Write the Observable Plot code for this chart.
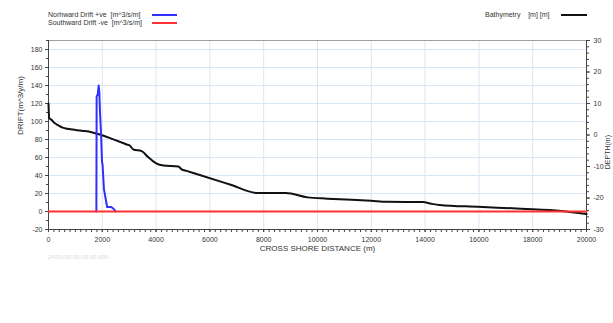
<!DOCTYPE html>
<html>
<head>
<meta charset="utf-8">
<script src="https://cdn.jsdelivr.net/npm/d3@7"></script>
<script src="https://cdn.jsdelivr.net/npm/@observablehq/plot@0.6"></script>
<style>
  html, body { margin: 0; padding: 0; background: #fff; }
  body { width: 613px; height: 323px; overflow: hidden; font-family: "Liberation Sans", Arial, sans-serif; color: #333; }
  #legend { position: relative; width: 613px; height: 32px; font-size: 7px; }
  #legend .t { position: absolute; white-space: pre; line-height: 8px; }
  #legend .sw { position: absolute; height: 2px; }
  #stamp { position: absolute; left: 48px; top: 254px; font-size: 6px; line-height: 7px; color: #dcdcdc; white-space: pre; }
</style>
</head>
<body>
<div id="legend">
  <div class="t" style="left:48px; top:11px;">Norhward Drift +ve  [m^3/s/m]</div>
  <div class="sw" style="left:152px; top:14px; width:25px; background:#2f2fff;"></div>
  <div class="t" style="left:48px; top:19px;">Southward Drift -ve  [m^3/s/m]</div>
  <div class="sw" style="left:152px; top:22px; width:25px; background:#ff3030;"></div>
  <div class="t" style="left:485px; top:11px;">Bathymetry    [m] [m]</div>
  <div class="sw" style="left:561px; top:14px; width:26px; background:#111;"></div>
</div>
<div id="chart"></div>
<div id="stamp">24/01/93 00:00:00.000</div>
<script>
// Cross-shore distance (m) and bed level (m) of the profile
const bathyX = [0, 25, 100, 200, 300, 400, 500, 700, 1000, 1300, 1600, 2000, 2412, 2907, 3030, 3155, 3464, 3711, 4000, 4268, 4825, 4949, 5134, 5652, 6742, 7764, 8820, 9627, 10373, 11988, 12609, 13913, 14224, 14534, 15963, 17578, 19068, 20000];
const bathyDepth = [10, 5.4, 4.9, 4.0, 3.4, 2.9, 2.4, 2.0, 1.6, 1.3, 0.9, -0.1, -1.4, -3.0, -3.4, -4.6, -5.1, -7.1, -9.0, -9.7, -10.0, -10.9, -11.4, -12.8, -15.7, -18.4, -18.4, -19.8, -20.2, -20.9, -21.2, -21.3, -21.8, -22.2, -22.8, -23.4, -24.1, -25.1];

// Northward drift distribution (m^3/y/m)
const northX = [1780, 1790, 1830, 1865, 1890, 1915, 1955, 1990, 2010, 2060, 2120, 2180, 2330, 2420, 2500];
const northDrift = [0, 128, 130, 140, 132, 110, 85, 55, 52, 25, 15, 5, 5, 3, 0];

// Southward drift distribution (m^3/y/m)
const southX = [0, 20000];
const southDrift = [0, 0];

// Axis tick values
const xTicks = d3.range(0, 20001, 2000);
const xMinor = d3.range(0, 20001, 200);
const driftTicks = d3.range(-20, 181, 20);
const driftMinor = d3.range(-20, 191, 10);
const depthTicks = [-30, -20, -10, 0, 10, 20, 30];
const depthMinor = d3.range(-30, 31, 2);

const driftDomain = [-20, 190];
const depthDomain = [-30, 30];
// depth (right axis) expressed in drift units (left axis)
const toDrift = d => driftDomain[0] + (d - depthDomain[0]) * (driftDomain[1] - driftDomain[0]) / (depthDomain[1] - depthDomain[0]);
const toDepth = v => Math.round(depthDomain[0] + (v - driftDomain[0]) * (depthDomain[1] - depthDomain[0]) / (driftDomain[1] - driftDomain[0]));

const bathy = bathyX.map((x, i) => ({x, y: toDrift(bathyDepth[i])}));
const north = northX.map((x, i) => ({x, y: northDrift[i]}));
const south = southX.map((x, i) => ({x, y: southDrift[i]}));

const grid = "#d9e6f7";
const axisColor = "#444";

const chart = Plot.plot({
  width: 613,
  height: 291,
  marginLeft: 48,
  marginRight: 27,
  marginTop: 8,
  marginBottom: 94,
  style: {fontFamily: "'Liberation Sans', Arial, sans-serif", fontSize: "7px", color: "#333", background: "#fff", overflow: "visible"},
  x: {domain: [0, 20000]},
  y: {domain: driftDomain},
  marks: [
    Plot.gridX(d3.range(2000, 20000, 2000), {stroke: grid, strokeOpacity: 1}),
    Plot.gridY(d3.range(0, 181, 20), {stroke: grid, strokeOpacity: 1}),
    Plot.frame({stroke: "#a0a0a0"}),
    Plot.ruleX([0, 20000], {stroke: axisColor}),
    Plot.ruleY([-20], {stroke: axisColor}),

    Plot.axisX(xMinor, {tickSize: 3, tickFormat: () => "", stroke: axisColor, label: null}),
    Plot.axisX(xTicks, {tickSize: 3, tickPadding: 5, tickFormat: d => String(d), stroke: axisColor, label: null}),
    Plot.axisY(driftMinor, {anchor: "left", tickSize: 2, tickFormat: () => "", stroke: axisColor, label: null}),
    Plot.axisY(driftTicks, {anchor: "left", tickSize: 3, tickPadding: 3, tickFormat: d => String(d), stroke: axisColor, label: null}),
    Plot.axisY(depthMinor.map(toDrift), {anchor: "right", tickSize: 2, tickFormat: () => "", stroke: axisColor, label: null}),
    Plot.axisY(depthTicks.map(toDrift), {anchor: "right", tickSize: 3, tickPadding: 4, tickFormat: v => String(toDepth(v)), stroke: axisColor, label: null}),

    Plot.text(["CROSS SHORE DISTANCE (m)"], {frameAnchor: "bottom", dy: 21, fontSize: 8, fill: "#333"}),
    Plot.text(["DRIFT(m^3/y/m)"], {frameAnchor: "left", dx: -28, rotate: -90, fontSize: 8, fill: "#333"}),
    Plot.text(["DEPTH(m)"], {frameAnchor: "right", dx: 21, rotate: -90, fontSize: 7, fill: "#333"}),

    Plot.line(bathy, {x: "x", y: "y", stroke: "#111", strokeWidth: 2, curve: "monotone-x"}),
    Plot.line(north, {x: "x", y: "y", stroke: "#2f2fff", strokeWidth: 2}),
    Plot.line(south, {x: "x", y: "y", stroke: "#ff3030", strokeWidth: 1.8})
  ]
});
document.getElementById("chart").appendChild(chart);
</script>
</body>
</html>
